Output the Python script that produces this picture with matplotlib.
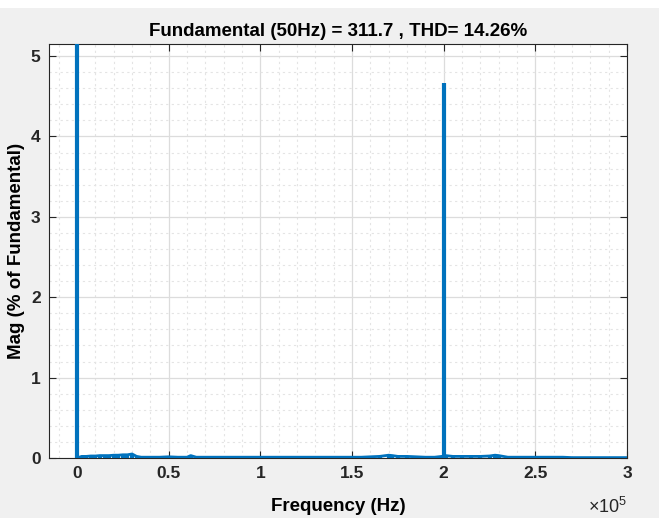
import matplotlib
matplotlib.use("Agg")
import matplotlib.pyplot as plt
from matplotlib.ticker import MultipleLocator, FuncFormatter
from matplotlib.patches import Rectangle

# Spectrum (frequency in Hz, magnitude in % of fundamental)
freq_hz = [0, 50, 2500, 5000, 7500, 10000, 12500, 15000, 17500, 20000, 22500, 25000,
           27500, 30000, 32500, 35000, 40000, 45000, 50000, 55000, 60000, 62000, 65000,
           70000, 75000, 80000, 85000, 90000, 95000, 100000, 105000, 110000, 115000,
           120000, 125000, 130000, 135000, 140000, 145000, 150000, 155000, 160000,
           165000, 170000, 172000, 175000, 180000, 185000, 190000, 195000, 199000,
           200000, 201000, 205000, 210000, 215000, 220000, 225000, 228000, 230000,
           235000, 240000, 245000, 250000, 255000, 260000, 265000, 270000, 275000,
           280000, 285000, 290000, 295000, 300000]
mag_pct = [0.0, 100.0, 0.02, 0.02, 0.025, 0.025, 0.03, 0.03, 0.03, 0.035, 0.035, 0.04,
           0.04, 0.05, 0.02, 0.01, 0.01, 0.01, 0.015, 0.01, 0.01, 0.03, 0.01,
           0.01, 0.01, 0.01, 0.01, 0.01, 0.01, 0.01, 0.01, 0.01, 0.01,
           0.01, 0.01, 0.01, 0.01, 0.01, 0.01, 0.01, 0.01, 0.015,
           0.02, 0.035, 0.03, 0.02, 0.02, 0.015, 0.01, 0.01, 0.02,
           4.67, 0.03, 0.02, 0.02, 0.02, 0.02, 0.025, 0.035, 0.03,
           0.01, 0.01, 0.01, 0.01, 0.01, 0.01, 0.01, 0.005, 0.005,
           0.005, 0.005, 0.005, 0.005, 0.005]

title = "Fundamental (50Hz) = 311.7 , THD= 14.26%"
xlabel = "Frequency (Hz)"
ylabel = "Mag (% of Fundamental)"
x_scale_exp = 5

plt.rcParams['font.family'] = ['Liberation Sans', 'DejaVu Sans']

fig = plt.figure(figsize=(6.59, 5.18), dpi=100, facecolor='#f0f0f0')
fig.patches.append(Rectangle((0, 0.985), 1, 0.015, transform=fig.transFigure,
                             facecolor='white', edgecolor='none', zorder=-1))
ax = fig.add_axes([49/659, 1 - 458/518, (627-49)/659, (458-44)/518])
ax.set_facecolor('white')

color = '#0072BD'
# stems for each spectral line
ax.vlines(freq_hz, 0, mag_pct, color=color, linewidth=3, zorder=3)
# floor trace (without the off-scale fundamental)
floor_f = [f for f, m in zip(freq_hz, mag_pct) if m < 1]
floor_m = [m for m in mag_pct if m < 1]
ax.plot(floor_f, floor_m, color=color, linewidth=2.0, zorder=3)

ax.set_xlim(-15300, 300000)
ax.set_ylim(0, 5.15)

ax.xaxis.set_major_locator(MultipleLocator(50000))
ax.xaxis.set_minor_locator(MultipleLocator(10000))
ax.yaxis.set_major_locator(MultipleLocator(1))
ax.yaxis.set_minor_locator(MultipleLocator(0.2))
ax.xaxis.set_major_formatter(FuncFormatter(lambda v, p: f"{v/10**x_scale_exp:g}"))

ax.grid(which='major', color='#dcdcdc', linewidth=0.9, linestyle='-')
ax.grid(which='minor', color='#e4e4e4', linewidth=0.8, linestyle=(0, (2, 3)))
ax.set_axisbelow(True)

ax.tick_params(which='both', direction='in', top=True, right=True, colors='#262626')
ax.tick_params(which='major', length=5, labelsize=12.5, pad=6)
ax.tick_params(which='minor', length=0)
for lab in ax.get_xticklabels() + ax.get_yticklabels():
    lab.set_fontweight('bold')
for s in ax.spines.values():
    s.set_color('#262626')
    s.set_linewidth(0.8)

ax.set_title(title, fontsize=13.5, fontweight='bold', pad=6)
ax.set_xlabel(xlabel, fontsize=13.5, fontweight='bold', labelpad=12)
ax.set_ylabel(ylabel, fontsize=13.5, fontweight='bold', labelpad=4)

fig.text(627/659, 1 - 507/518, r"$\mathregular{\times10^{%d}}$" % x_scale_exp,
         ha='right', va='center', fontsize=13, color='#262626', fontweight='normal')

fig.savefig('out.png', dpi=100, facecolor=fig.get_facecolor())
